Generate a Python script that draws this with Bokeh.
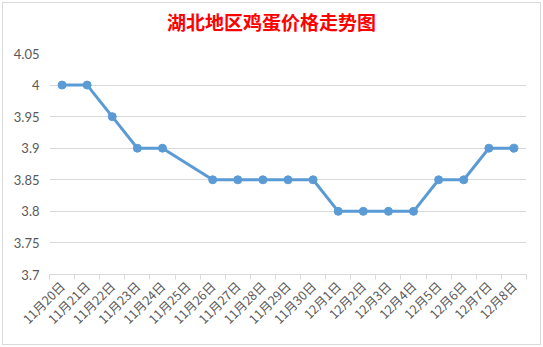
import math
from bokeh.plotting import figure
from bokeh.layouts import column
from bokeh.models import Range1d, FixedTicker, CustomJSTickFormatter, ColumnDataSource, Div
from bokeh.embed import file_html
from bokeh.resources import INLINE

title_text = "湖北地区鸡蛋价格走势图"
dates = ["11月20日", "11月21日", "11月22日", "11月23日", "11月24日", "11月25日",
         "11月26日", "11月27日", "11月28日", "11月29日", "11月30日",
         "12月1日", "12月2日", "12月3日", "12月4日", "12月5日", "12月6日",
         "12月7日", "12月8日"]
prices = [4.00, 4.00, 3.95, 3.90, 3.90, None, 3.85, 3.85, 3.85, 3.85, 3.85,
          3.80, 3.80, 3.80, 3.80, 3.85, 3.85, 3.90, 3.90]
y_ticks = [3.7, 3.75, 3.8, 3.85, 3.9, 3.95, 4.0, 4.05]

n = len(dates)
xs = [i + 0.5 for i, v in enumerate(prices) if v is not None]
ys = [v for v in prices if v is not None]
src = ColumnDataSource(dict(x=xs, y=ys))

OX, OY = 3, 3             # content origin in the window
W = 537                   # content width
TH = 38                   # title strip height
PY = OY + TH              # figure top in window
H = 344 - PY              # figure height
FL, FT, FR, FB = 49 - OX, 53 - PY, 526 - OX, 274 - PY  # frame edges in figure px

title = Div(text=('<div style="width:%dpx;height:%dpx;line-height:%dpx;text-align:center;'
                  'font-family:\'Noto Sans CJK SC\';font-weight:bold;font-size:19px;'
                  'color:#FF0000;">%s</div>') % (W, TH, TH, title_text),
            width=W, height=TH, margin=0)

p = figure(width=W, height=H, output_backend="svg", toolbar_location=None,
           x_range=Range1d(0, n), y_range=Range1d(3.7, 4.05),
           min_border_left=FL, min_border_right=W - FR, min_border_top=FT,
           min_border_bottom=H - FB, margin=0)
p.outline_line_color = None
p.background_fill_color = "white"
p.border_fill_color = "white"

p.line("x", "y", source=src, line_color="#5B9BD5", line_width=3)
p.scatter("x", "y", source=src, size=8, fill_color="#5B9BD5",
          line_color="#5B9BD5")

# x axis
xa = p.xaxis[0]
xa.ticker = FixedTicker(ticks=[i + 0.5 for i in range(n)],
                        minor_ticks=list(range(n + 1)))
xa.major_label_overrides = {i + 0.5: d for i, d in enumerate(dates)}
xa.major_tick_line_color = None
xa.major_tick_out = 0
xa.major_tick_in = 0
xa.minor_tick_line_color = "#D9D9D9"
xa.minor_tick_out = 5
xa.minor_tick_in = 0
xa.axis_line_color = "#D9D9D9"
xa.axis_line_width = 1
xa.major_label_orientation = math.pi / 4
xa.major_label_text_font = "Noto Sans CJK SC"
xa.major_label_text_font_size = "12.5px"
xa.major_label_text_color = "#595959"
xa.major_label_standoff = 4

# y axis
ya = p.yaxis[0]
ya.ticker = FixedTicker(ticks=y_ticks, minor_ticks=[])
ya.formatter = CustomJSTickFormatter(code="return String(Number(tick.toFixed(2)));")
ya.axis_line_color = None
ya.major_tick_line_color = None
ya.major_tick_out = 0
ya.major_tick_in = 0
ya.minor_tick_line_color = None
ya.major_label_text_font = "Lato"
ya.major_label_text_font_size = "13px"
ya.major_label_text_color = "#595959"
ya.major_label_standoff = 10

p.xgrid.grid_line_color = None
p.ygrid.grid_line_color = "#D9D9D9"
p.ygrid.ticker = FixedTicker(ticks=y_ticks)

layout = column(title, p, spacing=0, margin=(2, 0, 0, 2),
                styles={"border": "1px solid #D9D9D9", "background-color": "white"})

open("out.html", "w").write(file_html(layout, INLINE))
